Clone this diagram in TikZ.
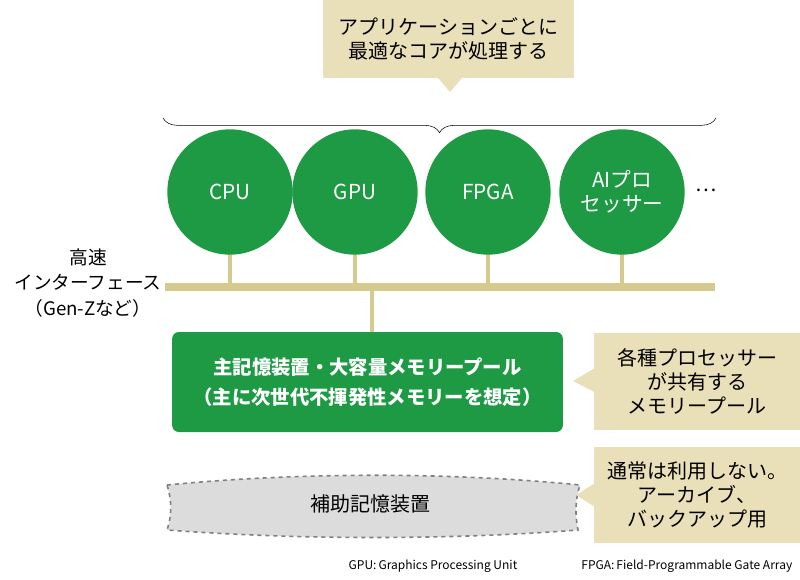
\documentclass[tikz,border=0pt]{standalone}
\usepackage{fontspec}
\setmainfont{Noto Sans CJK JP}
\usetikzlibrary{positioning,decorations.pathreplacing}
\definecolor{chipgreen}{HTML}{1E9A45}
\definecolor{notebeige}{HTML}{E9DFB8}
\definecolor{busbeige}{HTML}{D6CB8E}
\definecolor{storegray}{HTML}{DCDCDC}
\tikzset{
    chip/.style={circle,fill=chipgreen,minimum size=94pt,inner sep=0pt,text=white,font=\fontsize{15.5}{18}\selectfont,align=center},
    note/.style={fill=notebeige,inner sep=0pt,font=\fontsize{15}{18}\selectfont,align=center},
    stem/.style={busbeige,line width=3pt},
}
\begin{document}
\begin{tikzpicture}[x=0.75pt,y=-0.75pt]
    \useasboundingbox (0,0) rectangle (800,579);

    % Top note with pointer
    \fill[notebeige] (438,78) -- (450,92) -- (462,78) -- cycle;
    \node[note,minimum width=188pt,minimum height=58pt] (top) at (448.5,39) {アプリケーションごとに\\最適なコアが処理する};

    % Brace over the processors
    \draw[decorate,decoration={brace,amplitude=11pt,mirror}] (163,118) -- (716,118);

    % Bus and stems
    \coordinate (busL) at (165,287);
    \coordinate (busR) at (715,287);
    \draw[busbeige,line width=6pt] (busL) -- (busR);

    % Processors
    \foreach \x/\name/\txt in {230/cpu/CPU,355/gpu/GPU,488/fpga/FPGA,622/ai/{AIプロ\\セッサー}} {
        \coordinate (\name-b) at (\x,287);
        \draw[stem] (\name-b) -- (\x,230);
        \node[chip] (\name) at (\x,192) {\txt};
    }
    \node[font=\fontsize{15}{17}\selectfont] (more) at (706,190) {…};

    \node[font=\fontsize{14}{19}\selectfont,align=center] (hs) at (88,283) {高速\\インターフェース\\（Gen-Zなど）};

    % Main memory
    \node[fill=chipgreen,rounded corners=5pt,minimum width=293pt,minimum height=75pt,text=white,
        font=\bfseries\fontsize{14.5}{22}\selectfont,align=center] (mem) at (367.5,382)
        {主記憶装置・大容量メモリープール\\（主に次世代不揮発性メモリーを想定）};
    \coordinate (mem-t) at (372,287);
    \draw[stem] (mem-t) -- (mem.north -| mem-t);

    % Note for memory
    \fill[notebeige] (600,365) -- (573,381) -- (600,395) -- cycle;
    \node[note,minimum width=155pt,minimum height=73pt] (memnote) at (697,381.5) {各種プロセッサー\\が共有する\\メモリープール};

    % Secondary storage
    \filldraw[fill=storegray,draw=gray,dashed,line width=1.2pt]
        (167,485) .. controls (300,472) and (450,472) .. (580,485)
        .. controls (575,500) and (575,515) .. (578,530)
        .. controls (450,540) and (300,540) .. (167,530)
        .. controls (172,515) and (172,500) .. (167,485) -- cycle;
    \node[font=\fontsize{15}{17}\selectfont] (store) at (370,504) {補助記憶装置};

    % Note for storage
    \fill[notebeige] (600,480) -- (576,495) -- (600,510) -- cycle;
    \node[note,minimum width=155pt,minimum height=72pt] (storenote) at (697,495) {通常は利用しない。\\アーカイブ、\\バックアップ用};

    % Footnotes
    \node[font=\fontsize{9}{11}\selectfont,anchor=east] (fn1) at (522,566) {GPU:\,Graphics Processing Unit};
    \node[font=\fontsize{9}{11}\selectfont,anchor=east] (fn2) at (797,566) {FPGA:\,Field-Programmable Gate Array};

\end{tikzpicture}
\end{document}
